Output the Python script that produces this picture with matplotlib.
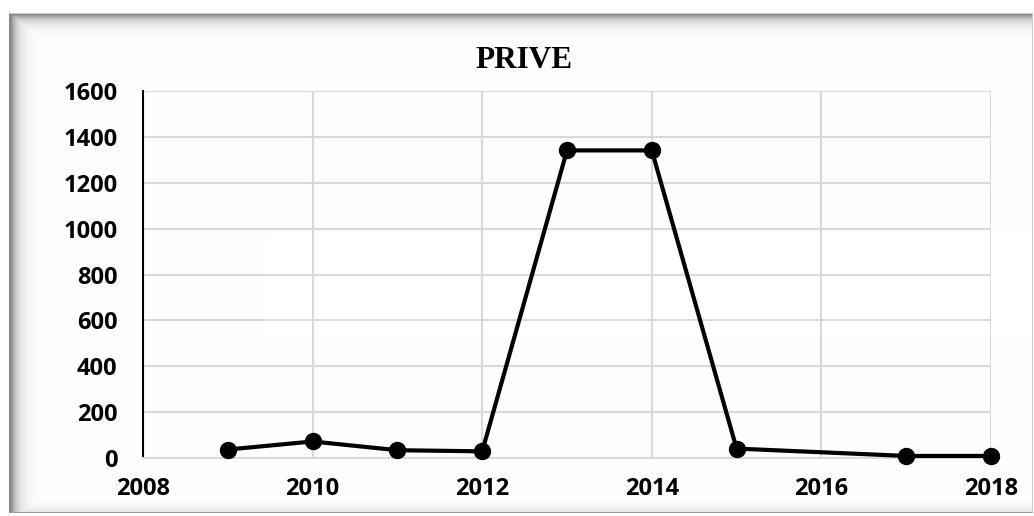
import numpy as np
import matplotlib
matplotlib.use("Agg")
import matplotlib.pyplot as plt

# Yearly values for the "PRIVE" series
years = [2009, 2010, 2011, 2012, 2013, 2014, 2015, 2017, 2018]
values = [37, 72, 34, 29, 1341, 1341, 41, 9, 9]
x_ticks = [2008, 2010, 2012, 2014, 2016, 2018]
y_ticks = [0, 200, 400, 600, 800, 1000, 1200, 1400, 1600]
title = "PRIVE"

W, H = 1034, 516
fig = plt.figure(figsize=(W / 100, H / 100), dpi=100)
fig.patch.set_facecolor("white")

# Framed panel with an inset shadow along its top and left edges
bg = fig.add_axes([0, 0, 1, 1], zorder=0)
bg.set_xlim(0, W)
bg.set_ylim(H, 0)
bg.axis("off")
x0, y0, x1, y1 = 9, 13, 1033, 513
img = np.ones((H, W, 3))
yy, xx = np.mgrid[0:H, 0:W]
inside = (xx >= x0) & (xx < x1) & (yy >= y0) & (yy < y1)
dt = (yy - y0).astype(float)
dl = (xx - x0).astype(float)
db = (y1 - 1 - yy).astype(float)
shade = np.zeros((H, W))
shade = np.maximum(shade, 0.55 * np.exp(-dt / 6.0))
shade = np.maximum(shade, 0.55 * np.exp(-dl / 7.0))
shade = np.maximum(shade, 0.12 * np.exp(-db / 5.0))
shade = np.where(inside, shade, 0.0)
img = img * (1 - shade[..., None])
# thin outline of the panel
img[y0, x0:x1] = 0.82
img[y0:y1, x0] = 0.55
img[y0:y1, x1 - 1] = 0.8
img[y1 - 1, x0:x1] = 0.6
bg.imshow(img, extent=(0, W, H, 0), interpolation="nearest", aspect="auto")

# Plot area
left, right = 143 / W, 991 / W
bottom, top = 1 - 458 / H, 1 - 91 / H
ax = fig.add_axes([left, bottom, right - left, top - bottom], zorder=1)
ax.patch.set_alpha(0)

ax.plot(years, values, color="black", lw=3.0, marker="o", ms=11.5,
        markerfacecolor="black", markeredgecolor="black", zorder=3,
        solid_joinstyle="round", clip_on=False)

ax.set_xlim(2008, 2018)
ax.set_ylim(0, 1600)
ax.set_xticks(x_ticks)
ax.set_yticks(y_ticks)
ax.grid(True, color="#d9d9d9", lw=1.5, zorder=0)
ax.set_axisbelow(True)

for s in ["top", "right"]:
    ax.spines[s].set_visible(False)
ax.spines["bottom"].set_color("#d9d9d9")
ax.spines["bottom"].set_linewidth(1.5)
ax.spines["left"].set_color("black")
ax.spines["left"].set_linewidth(1.5)
ax.tick_params(axis="both", length=0, labelsize=17)
ax.tick_params(axis="y", pad=18.5)
ax.tick_params(axis="x", pad=14)
for lab in ax.get_xticklabels() + ax.get_yticklabels():
    lab.set_fontfamily("Open Sans")
    lab.set_fontweight("bold")

fig.text(524 / W, 1 - 61 / H, title, ha="center", va="center",
         fontsize=22.5, fontweight="bold", family="Liberation Serif")

fig.savefig("out.png", dpi=100)
